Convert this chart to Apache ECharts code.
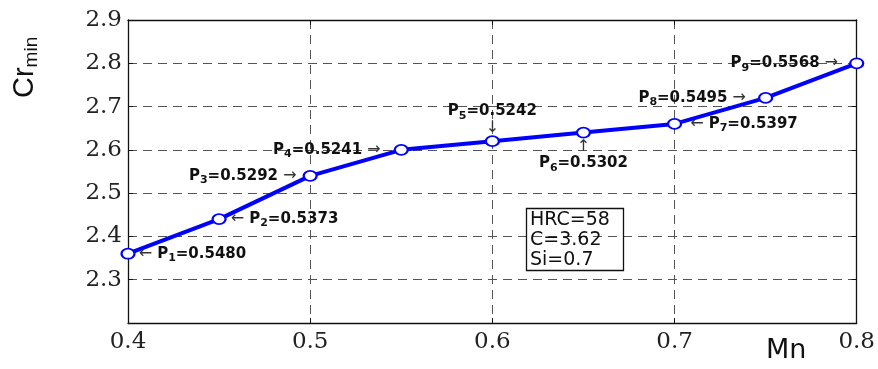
<!DOCTYPE html>
<html>
<head>
<meta charset="utf-8">
<script src="https://cdn.jsdelivr.net/npm/echarts@6/dist/echarts.min.js"></script>
<style>
  html, body { margin: 0; padding: 0; background: #fff; }
  #main { width: 878px; height: 369px; }
</style>
</head>
<body>
<div id="main"></div>
<script>
// 数据
const mnValues = [0.4, 0.45, 0.5, 0.55, 0.6, 0.65, 0.7, 0.75, 0.8];
const crValues = [2.36, 2.44, 2.54, 2.60, 2.62, 2.64, 2.66, 2.72, 2.80];
const pValues = ['0.5480', '0.5373', '0.5292', '0.5241', '0.5242', '0.5302', '0.5397', '0.5495', '0.5568'];
// 标注方位: r = 点右侧, l = 点左侧, t = 上方, b = 下方
const labelSides = ['r', 'r', 'l', 'l', 't', 'b', 'r', 'l', 'l'];
const labelGaps = [3, 4, 6, 13, 0, 1, 8, 12, 11];
const infoLines = ['HRC=58', 'C=3.62', 'Si=0.7'];

const chartDom = document.getElementById('main');
const myChart = echarts.init(chartDom);

function pText(i) {
  return '{b|P}{s|' + (i + 1) + '}{b|=' + pValues[i] + '}';
}

const seriesData = mnValues.map((x, i) => {
  const side = labelSides[i];
  const d = labelGaps[i];
  let label;
  if (side === 'r') {
    label = { position: 'right', distance: d, formatter: '{a|\u2190 }' + pText(i) };
  } else if (side === 'l') {
    label = { position: 'left', distance: d, formatter: pText(i) + '{a| \u2192}' };
  } else if (side === 't') {
    label = { position: 'top', distance: d, formatter: pText(i) + '\n{c|\u2193}' };
  } else {
    label = { position: 'bottom', distance: d, formatter: '{c|\u2191}\n' + pText(i) };
  }
  return { value: [x, crValues[i]], label: label };
});

const richStyle = {
  b: { fontFamily: 'DejaVu Sans', fontWeight: 'bold', fontSize: 15, color: '#111', lineHeight: 18 },
  s: { fontFamily: 'DejaVu Sans', fontWeight: 'bold', fontSize: 11, color: '#111', lineHeight: 18, padding: [9, 0, 0, 0] },
  a: { fontFamily: 'DejaVu Sans', fontSize: 16, color: '#333', lineHeight: 18 },
  c: { fontFamily: 'DejaVu Sans', fontSize: 16, color: '#333', lineHeight: 15, align: 'center' }
};

const dashed = { show: true, lineStyle: { color: '#555', type: [9, 6], width: 1 } };
const tickLabel = { fontFamily: 'DejaVu Serif', fontSize: 23, color: '#222' };
const frameLine = { show: true, onZero: false, lineStyle: { color: '#111', width: 1.3 } };
const frameTick = { show: true, inside: true, length: 5, lineStyle: { color: '#111' } };

const option = {
  animation: false,
  grid: { left: 128, right: 21, top: 20, bottom: 46 },
  title: {
    text: infoLines.join('\n'),
    left: 526,
    top: 208,
    padding: [2, 14, 1, 4],
    borderColor: '#111',
    borderWidth: 1.3,
    textStyle: { fontFamily: 'DejaVu Sans', fontWeight: 'normal', fontSize: 19, lineHeight: 20, color: '#111' }
  },
  xAxis: [
    {
      type: 'value', min: 0.4, max: 0.8, interval: 0.1,
      axisLine: frameLine,
      axisTick: frameTick,
      axisLabel: Object.assign({ margin: 8, formatter: v => v.toFixed(1) }, tickLabel),
      splitLine: dashed
    },
    {
      type: 'value', position: 'top', min: 0.4, max: 0.8, interval: 0.1,
      axisLine: frameLine,
      axisTick: frameTick,
      axisLabel: { show: false },
      splitLine: { show: false }
    }
  ],
  yAxis: [
    {
      type: 'value', min: 2.2, max: 2.9, interval: 0.1,
      axisLine: frameLine,
      axisTick: frameTick,
      axisLabel: Object.assign({ margin: 6, showMinLabel: false, formatter: v => v.toFixed(1) }, tickLabel),
      splitLine: dashed
    },
    {
      type: 'value', position: 'right', min: 2.2, max: 2.9, interval: 0.1,
      axisLine: frameLine,
      axisTick: frameTick,
      axisLabel: { show: false },
      splitLine: { show: false }
    }
  ],
  graphic: [
    {
      type: 'text',
      x: 8, y: 98,
      rotation: Math.PI / 2,
      style: {
        text: '{m|Cr}{n|min}',
        rich: {
          m: { fontFamily: 'Liberation Sans', fontSize: 29, fill: '#111' },
          n: { fontFamily: 'Liberation Sans', fontSize: 19, fill: '#111', padding: [14, 0, 0, 0] }
        }
      }
    },
    {
      type: 'text',
      x: 766, y: 337,
      style: { text: 'Mn', font: '27px "DejaVu Sans"', fill: '#111' }
    }
  ],
  series: [
    {
      type: 'line',
      data: seriesData,
      symbol: 'emptyCircle',
      symbolSize: [13, 10],
      lineStyle: { color: '#0000ff', width: 4 },
      itemStyle: { color: '#0000ff', borderColor: '#0000ff', borderWidth: 2.5 },
      label: { show: true, rich: richStyle },
      z: 5
    }
  ]
};

option && myChart.setOption(option);
</script>
</body>
</html>
